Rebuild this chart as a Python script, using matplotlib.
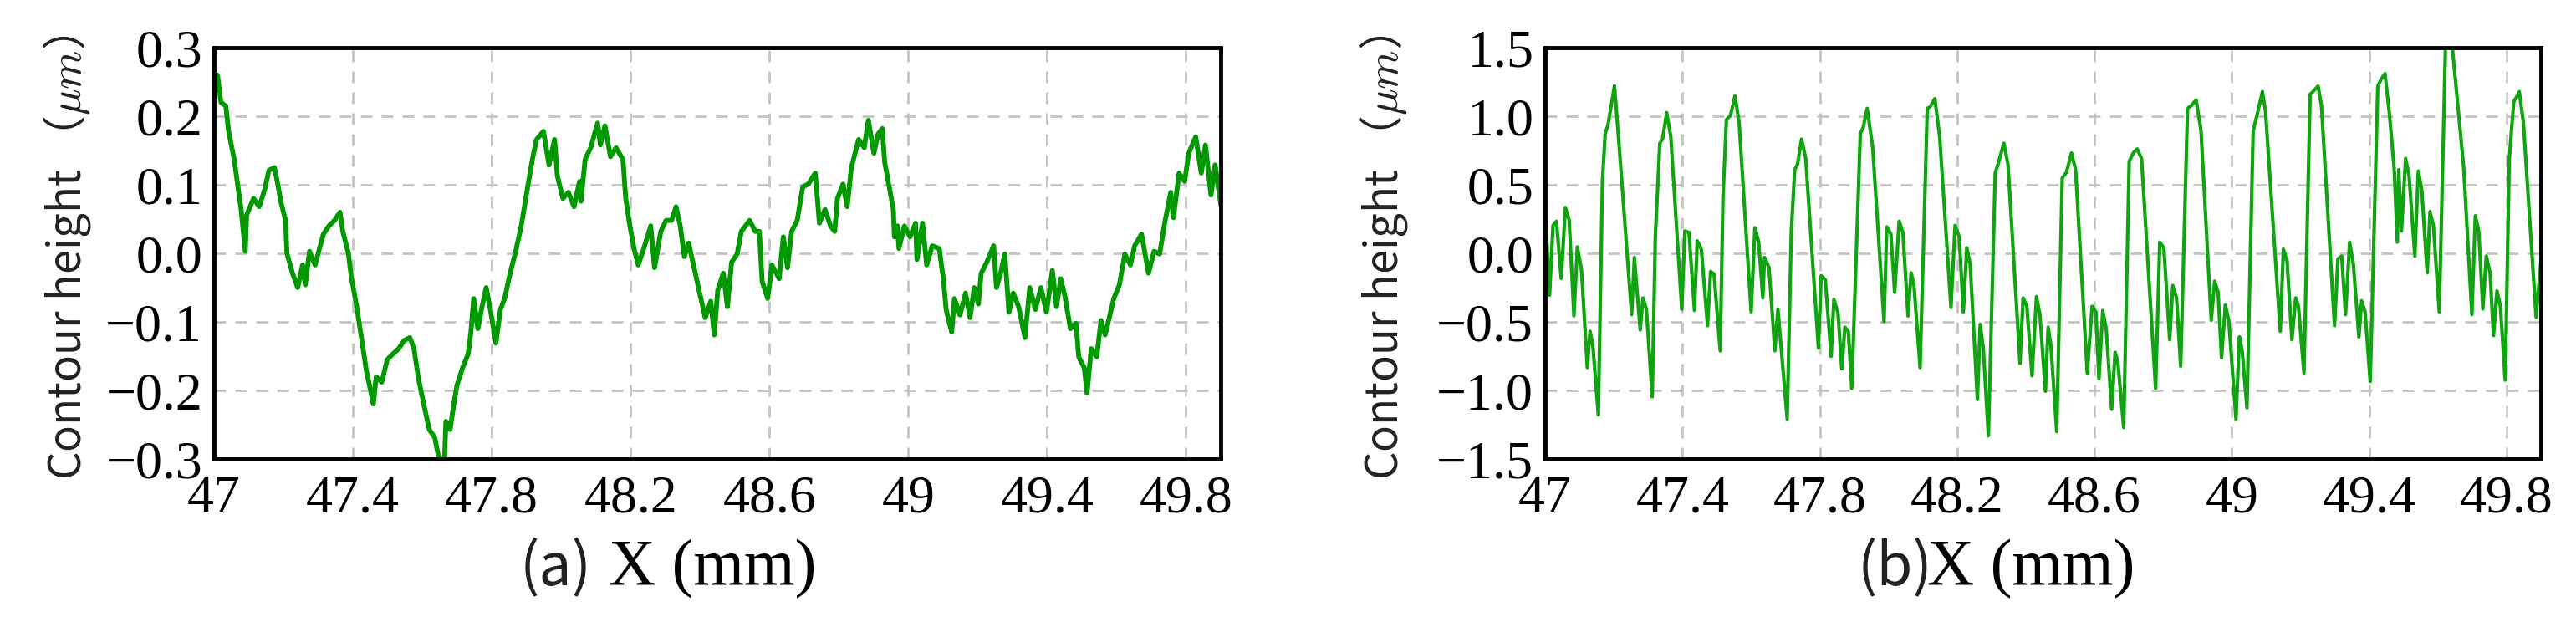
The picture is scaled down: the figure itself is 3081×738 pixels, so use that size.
import matplotlib
matplotlib.use('Agg')
import matplotlib.pyplot as plt

plt.rcParams['mathtext.fontset'] = 'cm'

# (a) contour profile
xa = [47.000, 47.010, 47.020, 47.034, 47.042, 47.058, 47.070, 47.078, 47.090, 47.094,
      47.114, 47.130, 47.146, 47.158, 47.174, 47.182, 47.194, 47.206, 47.210, 47.226,
      47.241, 47.255, 47.263, 47.275, 47.291, 47.315, 47.331, 47.347, 47.363, 47.371,
      47.387, 47.395, 47.411, 47.427, 47.439, 47.451, 47.459, 47.467, 47.483, 47.499,
      47.515, 47.532, 47.548, 47.564, 47.576, 47.588, 47.604, 47.620, 47.636, 47.648,
      47.664, 47.668, 47.680, 47.692, 47.700, 47.716, 47.732, 47.740, 47.748, 47.760,
      47.772, 47.784, 47.796, 47.812, 47.825, 47.837, 47.853, 47.869, 47.885, 47.901,
      47.917, 47.929, 47.949, 47.965, 47.981, 47.989, 48.005, 48.021, 48.037, 48.053,
      48.057, 48.069, 48.085, 48.105, 48.113, 48.126, 48.142, 48.158, 48.178, 48.186,
      48.198, 48.210, 48.222, 48.238, 48.258, 48.269, 48.287, 48.302, 48.318, 48.331,
      48.343, 48.355, 48.367, 48.383, 48.399, 48.415, 48.431, 48.441, 48.451, 48.467,
      48.479, 48.491, 48.507, 48.519, 48.531, 48.543, 48.559, 48.571, 48.579, 48.595,
      48.607, 48.628, 48.640, 48.652, 48.664, 48.680, 48.696, 48.712, 48.732, 48.744,
      48.760, 48.776, 48.788, 48.796, 48.812, 48.824, 48.836, 48.857, 48.873, 48.885,
      48.901, 48.913, 48.925, 48.932, 48.945, 48.957, 48.960, 48.969, 48.973, 48.989,
      49.005, 49.021, 49.025, 49.041, 49.053, 49.069, 49.089, 49.101, 49.109, 49.125,
      49.133, 49.149, 49.165, 49.178, 49.190, 49.202, 49.210, 49.226, 49.246, 49.254,
      49.266, 49.278, 49.290, 49.302, 49.318, 49.336, 49.350, 49.366, 49.382, 49.398,
      49.415, 49.427, 49.439, 49.451, 49.467, 49.483, 49.491, 49.507, 49.515, 49.527,
      49.543, 49.555, 49.567, 49.579, 49.592, 49.608, 49.624, 49.640, 49.652, 49.672,
      49.692, 49.708, 49.724, 49.740, 49.756, 49.764, 49.780, 49.796, 49.808, 49.828,
      49.844, 49.856, 49.872, 49.884, 49.900]
ya = [0.230, 0.260, 0.220, 0.215, 0.178, 0.137, 0.093, 0.064, 0.003, 0.056,
      0.080, 0.068, 0.093, 0.121, 0.125, 0.105, 0.072, 0.048, 0.000, -0.029,
      -0.050, -0.017, -0.046, 0.003, -0.017, 0.028, 0.040, 0.048, 0.060, 0.032,
      0.000, -0.033, -0.078, -0.131, -0.172, -0.200, -0.220, -0.180, -0.188, -0.155,
      -0.147, -0.139, -0.127, -0.123, -0.139, -0.180, -0.220, -0.257, -0.269, -0.300,
      -0.300, -0.245, -0.257, -0.216, -0.192, -0.167, -0.147, -0.115, -0.066, -0.110,
      -0.078, -0.050, -0.082, -0.131, -0.082, -0.066, -0.029, 0.003, 0.040, 0.089,
      0.137, 0.166, 0.178, 0.129, 0.166, 0.113, 0.080, 0.089, 0.068, 0.105,
      0.076, 0.137, 0.154, 0.190, 0.158, 0.186, 0.141, 0.154, 0.137, 0.080,
      0.040, 0.007, -0.017, 0.007, 0.040, -0.021, 0.032, 0.048, 0.048, 0.068,
      0.040, -0.005, 0.015, -0.021, -0.058, -0.094, -0.070, -0.119, -0.054, -0.029,
      -0.078, -0.013, -0.001, 0.032, 0.040, 0.048, 0.032, 0.032, -0.041, -0.066,
      -0.017, -0.037, 0.024, -0.021, 0.032, 0.048, 0.097, 0.101, 0.117, 0.044,
      0.064, 0.040, 0.032, 0.080, 0.101, 0.068, 0.125, 0.166, 0.154, 0.194,
      0.146, 0.174, 0.182, 0.133, 0.097, 0.064, 0.024, 0.040, 0.007, 0.040,
      0.024, 0.044, -0.009, 0.044, -0.017, 0.011, 0.007, -0.037, -0.082, -0.115,
      -0.066, -0.090, -0.058, -0.094, -0.050, -0.074, -0.029, -0.013, 0.011, -0.050,
      -0.029, -0.001, -0.086, -0.058, -0.078, -0.123, -0.050, -0.082, -0.050, -0.086,
      -0.025, -0.078, -0.037, -0.062, -0.110, -0.102, -0.151, -0.167, -0.204, -0.139,
      -0.151, -0.098, -0.119, -0.094, -0.066, -0.046, -0.001, -0.017, 0.011, 0.028,
      -0.029, 0.003, -0.001, 0.048, 0.089, 0.052, 0.117, 0.105, 0.146, 0.170,
      0.117, 0.158, 0.085, 0.129, 0.072]

# (b) contour profile
xb = [47.000, 47.013, 47.023, 47.033, 47.047, 47.059, 47.070, 47.084, 47.094, 47.106,
      47.123, 47.131, 47.139, 47.155, 47.167, 47.175, 47.183, 47.202, 47.216, 47.252,
      47.260, 47.277, 47.285, 47.295, 47.312, 47.321, 47.334, 47.342, 47.354, 47.366,
      47.398, 47.407, 47.419, 47.435, 47.443, 47.455, 47.473, 47.482, 47.492, 47.510,
      47.518, 47.528, 47.540, 47.553, 47.565, 47.600, 47.611, 47.622, 47.634, 47.639,
      47.652, 47.669, 47.678, 47.705, 47.717, 47.727, 47.735, 47.747, 47.759, 47.796,
      47.804, 47.816, 47.833, 47.841, 47.853, 47.864, 47.873, 47.883, 47.893, 47.910,
      47.918, 47.926, 47.938, 47.954, 47.987, 47.995, 48.007, 48.018, 48.031, 48.042,
      48.057, 48.066, 48.074, 48.092, 48.113, 48.121, 48.135, 48.149, 48.182, 48.194,
      48.206, 48.218, 48.228, 48.238, 48.259, 48.267, 48.276, 48.291, 48.311, 48.319,
      48.336, 48.348, 48.383, 48.392, 48.403, 48.418, 48.431, 48.441, 48.457, 48.465,
      48.473, 48.490, 48.506, 48.518, 48.533, 48.545, 48.579, 48.593, 48.604, 48.613,
      48.624, 48.634, 48.650, 48.660, 48.668, 48.685, 48.701, 48.713, 48.724, 48.737,
      48.778, 48.790, 48.802, 48.819, 48.828, 48.839, 48.851, 48.871, 48.882, 48.896,
      48.910, 48.940, 48.950, 48.960, 48.970, 48.981, 48.991, 49.012, 49.022, 49.030,
      49.044, 49.062, 49.074, 49.089, 49.098, 49.141, 49.150, 49.161, 49.175, 49.186,
      49.194, 49.210, 49.228, 49.240, 49.251, 49.261, 49.299, 49.309, 49.320, 49.331,
      49.343, 49.354, 49.370, 49.378, 49.388, 49.403, 49.425, 49.435, 49.446, 49.459,
      49.473, 49.482, 49.486, 49.494, 49.506, 49.516, 49.533, 49.543, 49.553, 49.569,
      49.577, 49.587, 49.604, 49.622, 49.642, 49.675, 49.699, 49.709, 49.719, 49.731,
      49.741, 49.752, 49.762, 49.772, 49.782, 49.796, 49.808, 49.821, 49.829, 49.837,
      49.849, 49.886, 49.900]
yb = [0.330, -0.305, 0.203, 0.234, -0.183, 0.335, 0.244, -0.457, 0.047, -0.122,
      -0.833, -0.569, -0.671, -1.179, 0.528, 0.874, 0.935, 1.220, 0.772, -0.447,
      -0.030, -0.559, -0.325, -0.407, -1.047, 0.122, 0.803, 0.833, 1.026, 0.854,
      -0.407, 0.163, 0.152, -0.417, 0.091, 0.030, -0.528, -0.132, -0.152, -0.711,
      0.407, 0.976, 1.006, 1.148, 0.955, -0.427, 0.187, 0.081, -0.325, -0.030,
      -0.102, -0.711, -0.407, -1.209, 0.163, 0.610, 0.650, 0.833, 0.691, -0.691,
      -0.163, -0.193, -0.752, -0.335, -0.437, -0.843, -0.539, -0.569, -0.986, 0.285,
      0.874, 0.915, 1.057, 0.772, -0.498, 0.193, 0.142, -0.285, 0.234, 0.152,
      -0.457, -0.142, -0.224, -0.833, 1.057, 1.067, 1.128, 0.854, -0.396, 0.203,
      0.122, -0.427, 0.041, -0.081, -1.067, -0.518, -0.691, -1.331, 0.589, 0.650,
      0.803, 0.650, -0.803, -0.325, -0.386, -0.894, -0.315, -0.447, -1.006, -0.539,
      -0.671, -1.301, 0.549, 0.589, 0.732, 0.610, -0.874, -0.386, -0.427, -0.915,
      -0.417, -0.549, -1.138, -0.722, -0.793, -1.270, 0.671, 0.732, 0.762, 0.691,
      -0.986, 0.081, 0.041, -0.630, -0.234, -0.325, -0.823, 1.057, 1.077, 1.118,
      0.900, -0.488, -0.203, -0.285, -0.762, -0.376, -0.488, -1.209, -0.610, -0.711,
      -1.128, 0.894, 1.016, 1.179, 1.037, -0.569, 0.030, -0.061, -0.630, -0.325,
      -0.386, -0.874, 1.159, 1.189, 1.220, 1.077, -0.528, -0.041, -0.020, -0.447,
      0.081, -0.081, -0.610, -0.346, -0.427, -0.935, 1.220, 1.270, 1.311, 1.016,
      0.610, 0.081, 0.610, 0.163, 0.691, 0.569, -0.020, 0.600, 0.467, -0.142,
      0.305, 0.203, -0.427, 1.504, 1.504, 0.630, -0.447, 0.274, 0.163, -0.407,
      -0.020, -0.142, -0.600, -0.274, -0.386, -0.925, 0.691, 1.108, 1.138, 1.179,
      0.955, -0.467, -0.061]

xticks = [47, 47.4, 47.8, 48.2, 48.6, 49, 49.4, 49.8]
xtick_labels = ['47', '47.4', '47.8', '48.2', '48.6', '49', '49.4', '49.8']
yticks_a = [-0.3, -0.2, -0.1, 0.0, 0.1, 0.2, 0.3]
ytick_labels_a = ['\u22120.3', '\u22120.2', '\u22120.1', '0.0', '0.1', '0.2', '0.3']
yticks_b = [-1.5, -1.0, -0.5, 0.0, 0.5, 1.0, 1.5]
ytick_labels_b = ['\u22121.5', '\u22121.0', '\u22120.5', '0.0', '0.5', '1.0', '1.5']

W, H = 3081, 738
fig = plt.figure(figsize=(W / 100, H / 100), dpi=100)
ax_a = fig.add_axes([256 / W, 1 - 549 / H, (1460 - 256) / W, 492 / H])
ax_b = fig.add_axes([1848 / W, 1 - 549 / H, (3039 - 1848) / W, 492 / H])

serif = 'Liberation Serif'
sans = ['Noto Sans CJK SC', 'DejaVu Sans']

panels = [(ax_a, xa, ya, '#009900', yticks_a, ytick_labels_a, 4.2),
          (ax_b, xb, yb, '#10a510', yticks_b, ytick_labels_b, 3.0)]
for ax, x, y, col, yt, ytl, lw in panels:
    ax.plot(x, y, color=col, lw=lw, zorder=3)
    ax.set_xlim(47, 49.9)
    ax.set_ylim(yt[0], yt[-1])
    ax.set_xticks(xticks, labels=xtick_labels)
    ax.set_yticks(yt, labels=ytl)
    ax.grid(True, color='#c4c4c4', lw=2.0, linestyle=(0, (5, 4)), zorder=1)
    ax.tick_params(length=0, labelsize=46, pad=14)
    ax.tick_params(axis='y', pad=10)
    for lab in ax.get_xticklabels() + ax.get_yticklabels():
        lab.set_family(serif)
    for sp in ax.spines.values():
        sp.set_linewidth(3.5)
        sp.set_color('black')
        sp.set_zorder(4)

# y labels
for xc in (80, 1655):
    fig.text(xc / W, 1 - 308 / H, 'Contour height \uff08$\\mu m$\uff09', rotation=90,
             ha='center', va='center', fontsize=38, family=sans, color='#222222')

# x labels: sans "(a)" followed by serif "X (mm)"
yl = 1 - 681 / H
fig.text(622 / W, yl, '(a)', ha='left', va='center', fontsize=50, family=sans, color='#222222')
fig.text(728 / W, yl, 'X (mm)', ha='left', va='center', fontsize=56, family=serif)
fig.text(2222 / W, yl, '(b)', ha='left', va='center', fontsize=50, family=sans, color='#222222')
fig.text(2305 / W, yl, 'X (mm)', ha='left', va='center', fontsize=56, family=serif)

fig.savefig('out.png', dpi=100)
